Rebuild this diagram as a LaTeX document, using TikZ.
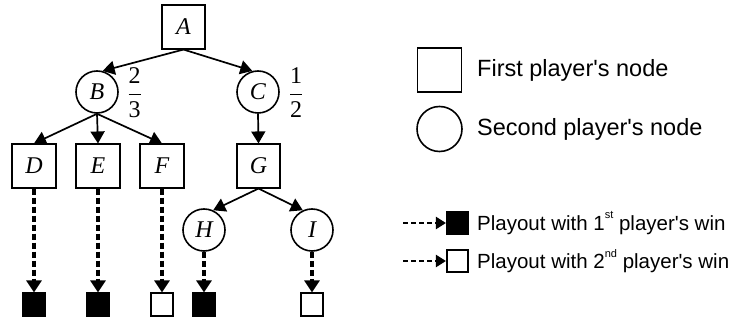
\documentclass[tikz,border=0pt]{standalone}
\usepackage{fontspec}
\setmainfont{Liberation Serif}
\setsansfont{Liberation Sans}
\usetikzlibrary{arrows.meta}
\newcommand{\supsm}[1]{\raisebox{0.55em}{\fontsize{11}{12}\selectfont #1}}
\begin{document}
\begin{tikzpicture}[x=1pt,y=-1pt,
  letter/.style={font=\fontsize{24}{28}\selectfont\itshape},
  pbox/.style={draw,line width=1.6pt,rectangle,minimum width=43.5pt,minimum height=43.5pt,inner sep=0pt,letter},
  pcirc/.style={draw,line width=1.6pt,circle,minimum size=42pt,inner sep=0pt,letter},
  leafwin/.style={draw,line width=1.6pt,fill=black,rectangle,minimum size=22.5pt,inner sep=0pt},
  leaflose/.style={draw,line width=1.6pt,fill=white,rectangle,minimum size=22.5pt,inner sep=0pt},
  arr/.style={line width=1.7pt,-{Triangle[length=12pt,width=14pt]}},
  darr/.style={line width=3.2pt,dash pattern=on 6pt off 3pt,-{Triangle[length=12pt,width=15pt]}},
  larr/.style={line width=2.2pt,dash pattern=on 5pt off 3pt,-{Triangle[length=10pt,width=12pt]}},
  frac/.style={font=\fontsize{24}{28}\selectfont,inner sep=0pt},
  legtext/.style={anchor=west,inner sep=0pt,font=\sffamily\fontsize{23.5}{28}\selectfont},
  legtext2/.style={anchor=west,inner sep=0pt,font=\sffamily\fontsize{20.5}{25}\selectfont}
]
\useasboundingbox (0,0) rectangle (739,320);

% tree nodes
\node[pbox] (A) at (183.5,27) {A};
\node[pcirc] (B) at (97,92) {B};
\node[pcirc] (C) at (258,92) {C};
\node[frac] (fB) at (134.5,93) {$\displaystyle{\mbox{2}\above 1.8pt \mbox{3}}$};
\node[frac] (fC) at (296,93) {$\displaystyle{\mbox{1}\above 1.8pt \mbox{2}}$};
\node[pbox] (D) at (34,166) {D};
\node[pbox] (E) at (98,166) {E};
\node[pbox] (F) at (162,166) {F};
\node[pbox] (G) at (258.5,166) {G};
\node[pcirc] (H) at (204,230) {H};
\node[pcirc] (I) at (312,230) {I};

% leaves
\node[leafwin] (lD) at (34,304.5) {};
\node[leafwin] (lE) at (98,304.5) {};
\node[leaflose] (lF) at (162,304.5) {};
\node[leafwin] (lH) at (204,304.5) {};
\node[leaflose] (lI) at (312,304.5) {};

% edges
\draw[arr] (A.south) -- (B.75);
\draw[arr] (A.south) -- (C.105);
\draw[arr] (B.south) -- (D.north);
\draw[arr] (B.south) -- (E.north);
\draw[arr] (B.south) -- (F.north);
\draw[arr] (C.south) -- (G.north);
\draw[arr] (G.south) -- (H.65);
\draw[arr] (G.south) -- (I.115);

% playouts
\draw[darr] (D.south) -- (lD.north);
\draw[darr] (E.south) -- (lE.north);
\draw[darr] (F.south) -- (lF.north);
\draw[darr] (H.south) -- (lH.north);
\draw[darr] (I.south) -- (lI.north);

% legend
\node[draw,line width=1.6pt,rectangle,minimum size=44pt,inner sep=0pt] (legP) at (439.5,70) {};
\node[legtext] (legPt) at (477,70) {First player\textquotesingle s node};
\node[draw,line width=1.6pt,circle,minimum size=45pt,inner sep=0pt] (legS) at (439.5,129) {};
\node[legtext] (legSt) at (477,129) {Second player\textquotesingle s node};

\node[leafwin,minimum size=21.5pt] (legW) at (457.5,223) {};
\coordinate (legWs) at (403,223);
\draw[larr] (legWs) -- (legW.west);
\node[legtext2] (legWt) at (477,223) {Playout with 1\supsm{st} player\textquotesingle s win};

\node[leaflose,minimum size=21.5pt] (legL) at (457.5,261) {};
\coordinate (legLs) at (403,261);
\draw[larr] (legLs) -- (legL.west);
\node[legtext2] (legLt) at (477,261) {Playout with 2\supsm{nd} player\textquotesingle s win};
\end{tikzpicture}
\end{document}
